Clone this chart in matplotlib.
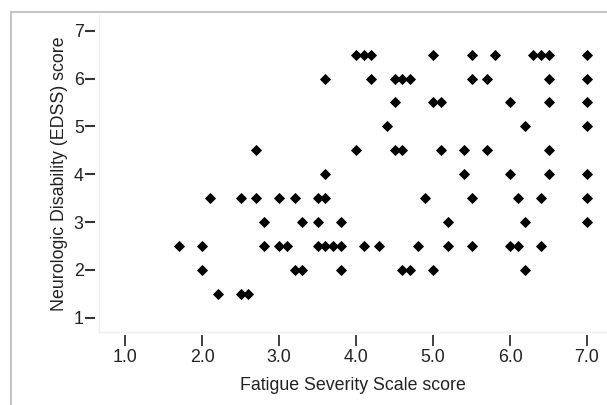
import numpy as np
import matplotlib.pyplot as plt
from matplotlib.lines import Line2D

# Datos: puntuación FSS (x) vs EDSS (y)
fss = [4.0, 4.1, 4.2, 5.0, 5.5, 5.8, 6.3, 6.4, 6.5, 7.0,
       3.6, 4.2, 4.5, 4.6, 4.7, 5.5, 5.7, 6.5, 7.0,
       4.5, 5.0, 5.1, 6.0, 6.5, 7.0,
       4.4, 6.2, 7.0,
       2.7, 4.0, 4.5, 4.6, 5.1, 5.4, 5.7, 6.5,
       3.6, 5.4, 6.0, 6.5, 7.0,
       2.1, 2.5, 2.7, 3.0, 3.2, 3.5, 3.6, 4.9, 5.5, 6.1, 6.4, 7.0,
       2.8, 3.3, 3.5, 3.8, 5.2, 6.2, 7.0,
       1.7, 2.0, 2.8, 3.0, 3.1, 3.5, 3.6, 3.7, 3.8, 4.1, 4.3, 4.8, 5.2, 5.5, 6.0, 6.1, 6.4,
       2.0, 3.2, 3.3, 3.8, 4.6, 4.7, 5.0, 6.2,
       2.2, 2.5, 2.6]
edss = [6.5] * 10 + [6.0] * 9 + [5.5] * 6 + [5.0] * 3 + [4.5] * 8 + [4.0] * 5 \
    + [3.5] * 12 + [3.0] * 7 + [2.5] * 17 + [2.0] * 8 + [1.5] * 3

xticks = [1.0, 2.0, 3.0, 4.0, 5.0, 6.0, 7.0]
yticks = [1, 2, 3, 4, 5, 6, 7]

plt.rcParams['font.family'] = ['Liberation Sans', 'DejaVu Sans']

fig = plt.figure(figsize=(6.07, 4.05), dpi=100)
ax = fig.add_axes([99 / 607, 1 - 332 / 405, 1 - 99 / 607, (332 - 15) / 405])

ax.plot(fss, edss, linestyle='none', marker='D', markersize=5.5,
        color='black', markeredgewidth=0.6, clip_on=False)

ax.set_xlim(0.66, 7.26)
ax.set_ylim(0.70, 7.33)
ax.set_xticks(xticks)
ax.set_xticklabels([f'{v:.1f}' for v in xticks])
ax.set_yticks(yticks)

# Marco: líneas muy claras y ticks separados de los ejes
for s in ['top', 'right', 'left', 'bottom']:
    ax.spines[s].set_visible(False)
ax.plot([0, 0], [0, 1], transform=ax.transAxes, color='#eeeeee', lw=1, clip_on=False)
ax.plot([0, 1], [0, 0], transform=ax.transAxes, color='#eeeeee', lw=1, clip_on=False)
ax.spines['bottom'].set_position(('outward', 2))
ax.spines['left'].set_position(('outward', 3))

ax.tick_params(axis='x', direction='out', length=8, width=1.3, color='#333333',
               pad=2, labelsize=12.8, labelcolor='#222222')
ax.tick_params(axis='y', direction='out', length=7, width=1.5, color='#333333',
               pad=1, labelsize=12.8, labelcolor='#222222')

ax.set_xlabel('Fatigue Severity Scale score', fontsize=12.8, color='#222222', labelpad=8)
ax.set_ylabel('Neurologic Disability (EDSS) score', fontsize=12.8, color='#222222', labelpad=4)

# Borde gris de la figura
fig.add_artist(Line2D([11 / 607, 11 / 607], [0, 1 - 12 / 405], color='#c4c4c4', lw=1.5))
fig.add_artist(Line2D([11 / 607, 1], [1 - 12 / 405, 1 - 12 / 405], color='#c4c4c4', lw=1.5))

fig.savefig('out.png', dpi=100)
